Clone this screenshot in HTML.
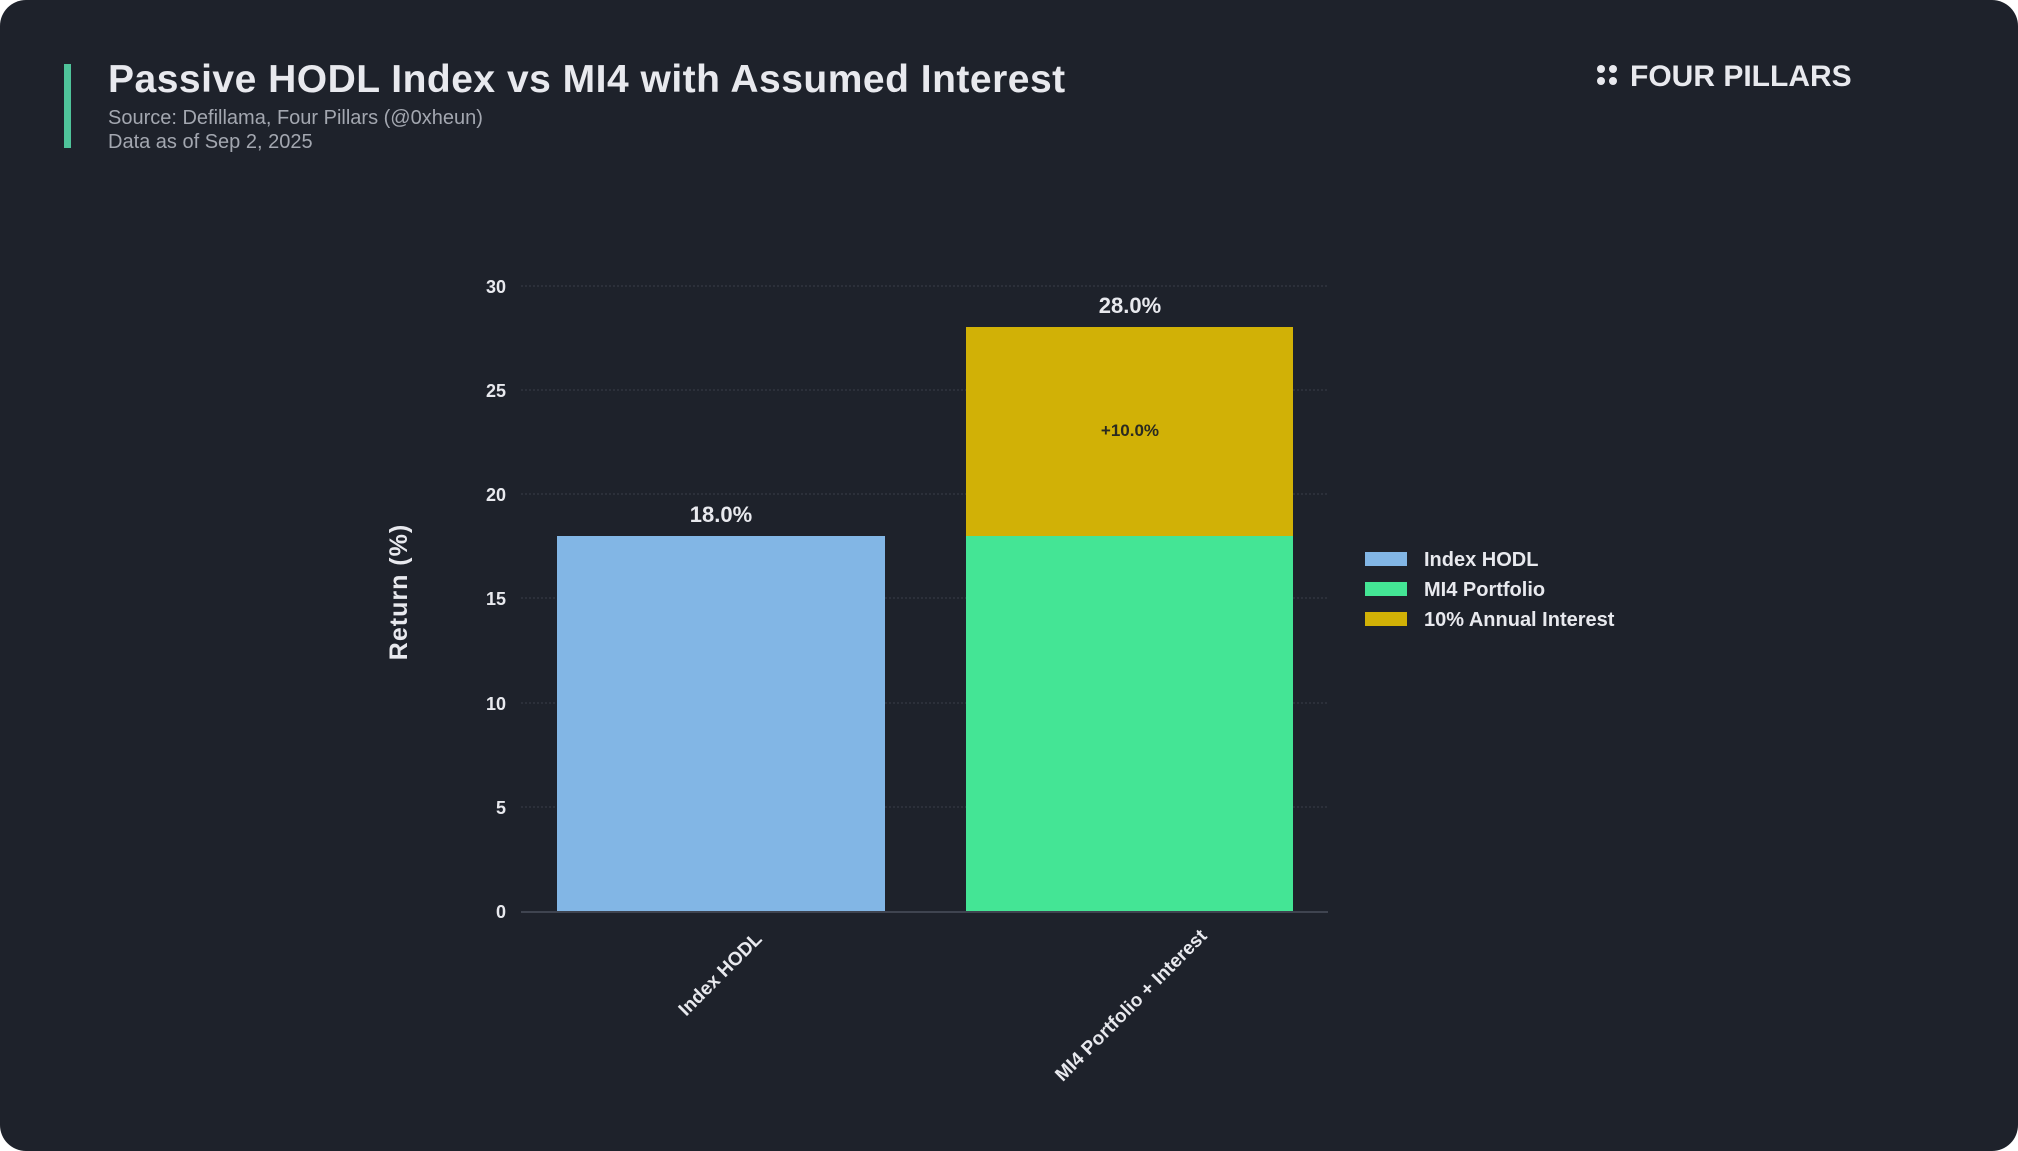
<!DOCTYPE html>
<html><head><meta charset="utf-8"><style>
html,body{margin:0;padding:0;background:#ffffff;}
.card{width:2018px;height:1151px;background:#1e222b;border-radius:26px;position:relative;overflow:hidden;}
svg{position:absolute;left:0;top:0;}
text{font-family:"Liberation Sans",sans-serif;}
</style></head><body><div class="card">
<svg width="2018" height="1151" viewBox="0 0 2018 1151">
<rect x="64" y="64" width="7" height="84" fill="#4fc39a"/>
<text x="108" y="92" font-size="39" font-weight="bold" fill="#e8e9ee" letter-spacing="0.5">Passive HODL Index vs MI4 with Assumed Interest</text>
<text x="108" y="124" font-size="20" fill="#a3a7b0">Source: Defillama, Four Pillars (@0xheun)</text>
<text x="108" y="148" font-size="20" fill="#a3a7b0">Data as of Sep 2, 2025</text>
<circle cx="1601" cy="69" r="4" fill="#e8e9ee"/><circle cx="1613" cy="69" r="4" fill="#e8e9ee"/>
<circle cx="1601" cy="81" r="4" fill="#e8e9ee"/><circle cx="1613" cy="81" r="4" fill="#e8e9ee"/>
<text x="1630" y="86" font-size="30" font-weight="bold" fill="#e8e9ee">FOUR PILLARS</text>
<g stroke="#3a3f4a" stroke-width="1" stroke-dasharray="2,2">
<line x1="521" y1="286" x2="1328" y2="286"/><line x1="521" y1="390" x2="1328" y2="390"/>
<line x1="521" y1="494" x2="1328" y2="494"/><line x1="521" y1="598" x2="1328" y2="598"/>
<line x1="521" y1="703" x2="1328" y2="703"/><line x1="521" y1="807" x2="1328" y2="807"/>
</g>
<g font-size="18" font-weight="bold" fill="#e8e9ee" text-anchor="end">
<text x="506" y="293">30</text><text x="506" y="397">25</text><text x="506" y="501">20</text>
<text x="506" y="605">15</text><text x="506" y="710">10</text><text x="506" y="814">5</text><text x="506" y="918">0</text>
</g>
<text transform="translate(407,592) rotate(-90)" text-anchor="middle" font-size="25" font-weight="bold" fill="#e8e9ee" letter-spacing="1">Return (%)</text>
<rect x="557" y="536" width="328" height="376" fill="#82b6e5"/>
<rect x="966" y="536" width="327" height="376" fill="#44e595"/>
<rect x="966" y="327" width="327" height="209" fill="#d1b106"/>
<line x1="521" y1="912" x2="1328" y2="912" stroke="#3f4450" stroke-width="2"/>
<text x="721" y="522" text-anchor="middle" font-size="22" font-weight="bold" fill="#e8e9ee">18.0%</text>
<text x="1130" y="313" text-anchor="middle" font-size="22" font-weight="bold" fill="#e8e9ee">28.0%</text>
<text x="1130" y="436" text-anchor="middle" font-size="17" font-weight="bold" fill="#2a2a20">+10.0%</text>
<text transform="translate(763,940) rotate(-45)" text-anchor="end" font-size="19" font-weight="bold" fill="#e8e9ee">Index HODL</text>
<text transform="translate(1208,937) rotate(-45)" text-anchor="end" font-size="19" font-weight="bold" fill="#e8e9ee">MI4 Portfolio + Interest</text>
<rect x="1365" y="552" width="42" height="14" fill="#82b6e5"/>
<rect x="1365" y="582" width="42" height="14" fill="#44e595"/>
<rect x="1365" y="612" width="42" height="14" fill="#d1b106"/>
<g font-size="20" font-weight="bold" fill="#e8e9ee">
<text x="1424" y="566">Index HODL</text><text x="1424" y="596">MI4 Portfolio</text><text x="1424" y="626">10% Annual Interest</text>
</g>
</svg></div></body></html>
